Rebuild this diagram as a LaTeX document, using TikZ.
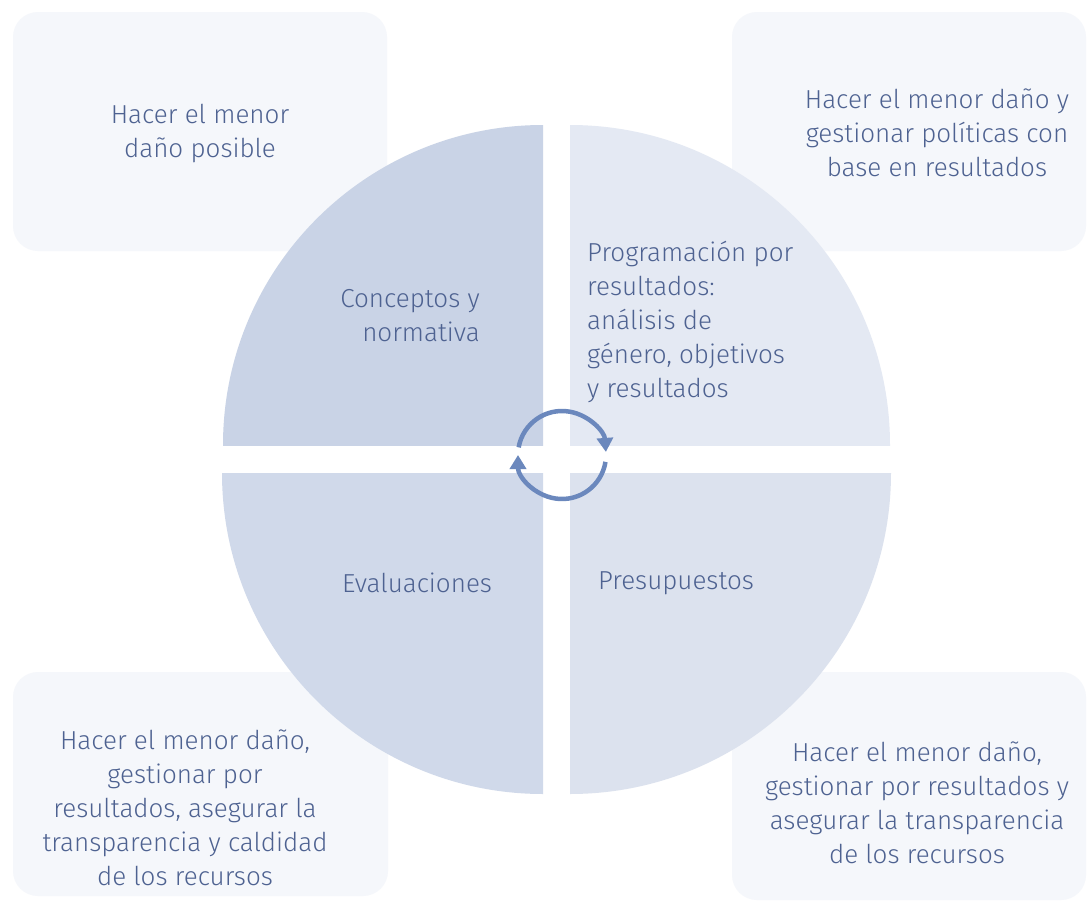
\documentclass[tikz,border=0pt]{standalone}
\usepackage{fontspec}
\setmainfont{Fira Sans Light}
\usetikzlibrary{arrows.meta}
\definecolor{boxc}{HTML}{F5F7FB}
\definecolor{qtl}{HTML}{C9D3E6}
\definecolor{qtr}{HTML}{E4E9F3}
\definecolor{qbl}{HTML}{D0D9EA}
\definecolor{qbr}{HTML}{DCE2EE}
\definecolor{textc}{HTML}{4E6291}
\definecolor{arrc}{HTML}{6B88BD}
\begin{document}
\begin{tikzpicture}[x=1pt,y=-1pt,
  txt/.style={text=textc, font=\fontsize{26}{34}\selectfont, align=center, inner sep=0pt},
  cornerbox/.style={fill=boxc, rounded corners=25pt},
  cyc/.style={draw=arrc, line width=4.5pt, -{Triangle[width=16pt,length=14pt]}}]
\useasboundingbox (0,0) rectangle (1088,902);
\fill[white] (0,0) rectangle (1088,902);
% corner boxes
\fill[cornerbox] (13,12) rectangle (387,251);
\fill[cornerbox] (732,12) rectangle (1086,251);
\fill[cornerbox] (13,672) rectangle (388,896);
\fill[cornerbox] (732,672) rectangle (1086,900);
% quarters
\begin{scope}\clip (200,100) rectangle (543,445); \fill[qtl] (543,445) circle[radius=320]; \end{scope}
\begin{scope}\clip (570,100) rectangle (900,445); \fill[qtr] (570,445) circle[radius=320]; \end{scope}
\begin{scope}\clip (200,473) rectangle (543,800); \fill[qbl] (543,473) circle[radius=321]; \end{scope}
\begin{scope}\clip (570,473) rectangle (900,800); \fill[qbr] (570,473) circle[radius=321]; \end{scope}
% cycle arrows
\begin{scope}[shift={(562,455)}, y=1pt]
  \draw[cyc] (170:44) arc[start angle=170, end angle=4, radius=44];
  \draw[cyc] (-9:44) arc[start angle=-9, end angle=-180, radius=44];
\end{scope}
% texts
\node[txt] (tl) at (200,134) {Hacer el menor\\daño posible};
\node[txt] (tr) at (937,133) {Hacer el menor daño y\\gestionar políticas con\\base en resultados};
\node[txt] (bl) at (185,808) {Hacer el menor daño,\\gestionar por\\resultados, asegurar la\\transparencia y caldidad\\de los recursos};
\node[txt] (br) at (917,803) {Hacer el menor daño,\\gestionar por resultados y\\asegurar la transparencia\\de los recursos};
\node[txt, align=right, anchor=east] (conc) at (480,316) {Conceptos y\\normativa};
\node[txt, align=left, anchor=west] (prog) at (587,322) {Programación por\\resultados:\\análisis de\\género, objetivos\\y resultados};
\node[txt] (eval) at (417,583) {Evaluaciones};
\node[txt] (pres) at (676,583) {Presupuestos};
\end{tikzpicture}
\end{document}
